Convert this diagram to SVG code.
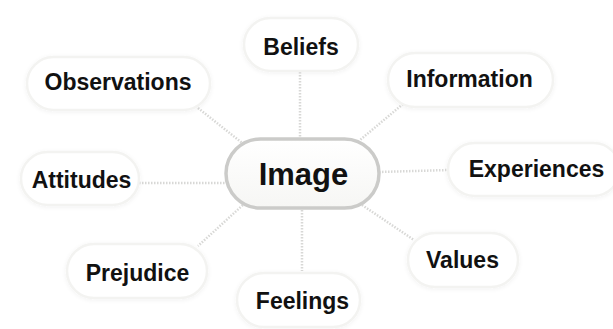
<svg xmlns="http://www.w3.org/2000/svg" width="613" height="329" viewBox="0 0 613 329">
  <defs>
    <filter id="soft" x="-20%" y="-30%" width="140%" height="160%">
      <feGaussianBlur in="SourceAlpha" stdDeviation="2.5"/>
      <feOffset dx="0" dy="1" result="b"/>
      <feComponentTransfer><feFuncA type="linear" slope="0.06"/></feComponentTransfer>
      <feMerge><feMergeNode/><feMergeNode in="SourceGraphic"/></feMerge>
    </filter>
    <linearGradient id="hubfill" x1="0" y1="0" x2="0" y2="1">
      <stop offset="0" stop-color="#ffffff"/>
      <stop offset="1" stop-color="#f6f6f4"/>
    </linearGradient>
  </defs>
  <style>
    .pill { fill: #ffffff; stroke: #f3f3f1; stroke-width: 2.5; filter: url(#soft); }
    .hub { fill: url(#hubfill); stroke: #cbcbc9; stroke-width: 3.5; }
    .lbl { font-family: "Liberation Sans", Arial, sans-serif; font-weight: bold; font-size: 23px; fill: #111; text-anchor: middle; }
    .hubl { font-size: 31px; }
    .link { stroke: #d8d8d6; stroke-width: 2.5; stroke-dasharray: 1.5 1.5; fill: none; }
  </style>
  <rect width="613" height="329" fill="#ffffff"/>

  <g id="connectors">
    <line class="link" x1="300" y1="72" x2="300" y2="138"/>
    <line class="link" x1="302" y1="210" x2="302" y2="271"/>
    <line class="link" x1="139" y1="183" x2="226" y2="183"/>
    <line class="link" x1="379" y1="172" x2="449" y2="170"/>
    <line class="link" x1="198" y1="108" x2="246" y2="146"/>
    <line class="link" x1="403" y1="104" x2="360" y2="140"/>
    <line class="link" x1="245" y1="203" x2="198" y2="246"/>
    <line class="link" x1="362" y1="205" x2="414" y2="240"/>
  </g>

  <g id="beliefs">
    <rect class="pill" x="244" y="18" width="114" height="53" rx="26.5"/>
    <text class="lbl" x="301" y="55">Beliefs</text>
  </g>
  <g id="observations">
    <rect class="pill" x="27" y="57" width="183" height="53" rx="26.5"/>
    <text class="lbl" x="118" y="90">Observations</text>
  </g>
  <g id="information">
    <rect class="pill" x="388" y="53" width="165" height="54" rx="27"/>
    <text class="lbl" x="469.5" y="87">Information</text>
  </g>
  <g id="attitudes">
    <rect class="pill" x="21" y="152" width="118" height="53" rx="26.5"/>
    <text class="lbl" x="81.5" y="188">Attitudes</text>
  </g>
  <g id="experiences">
    <rect class="pill" x="448" y="143" width="172" height="53" rx="26.5"/>
    <text class="lbl" x="536.5" y="177">Experiences</text>
  </g>
  <g id="prejudice">
    <rect class="pill" x="67" y="244" width="140" height="54" rx="27"/>
    <text class="lbl" x="137.5" y="281">Prejudice</text>
  </g>
  <g id="feelings">
    <rect class="pill" x="237" y="273" width="123" height="54" rx="27"/>
    <text class="lbl" x="302.5" y="309">Feelings</text>
  </g>
  <g id="values">
    <rect class="pill" x="408" y="233" width="110" height="54" rx="27"/>
    <text class="lbl" x="462.5" y="268">Values</text>
  </g>

  <g id="image">
    <rect class="hub" x="226" y="139" width="153" height="69" rx="34.5"/>
    <text class="lbl hubl" x="303.5" y="185">Image</text>
  </g>
</svg>
